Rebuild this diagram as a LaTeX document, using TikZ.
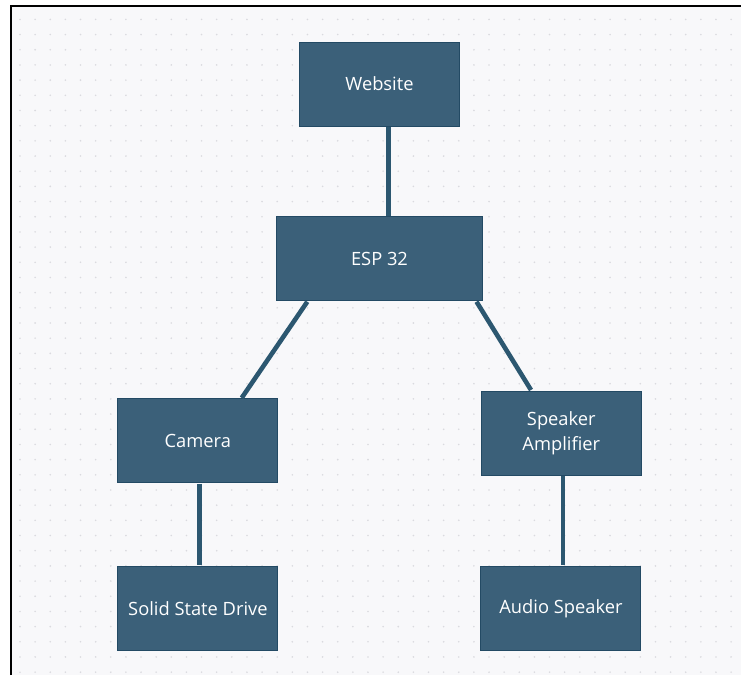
\documentclass[tikz,border=0pt]{standalone}
\usepackage{fontspec}
\setmainfont{Open Sans}
\definecolor{boxfill}{HTML}{3B6079}
\definecolor{boxedge}{HTML}{234A64}
\definecolor{wirecol}{HTML}{2C5770}
\definecolor{paper}{HTML}{F8F8FA}
\definecolor{dotcol}{HTML}{DADADF}
\begin{document}
\begin{tikzpicture}[x=1pt, y=1pt]
\tikzstyle{block}=[rectangle, fill=boxfill, draw=boxedge, line width=1pt, text=white,
  minimum width=160pt, minimum height=84pt, inner sep=0pt, align=center,
  font=\fontsize{18.3}{25}\selectfont]
\tikzstyle{wire}=[draw=wirecol, line width=4.6pt]
\useasboundingbox (0,0) rectangle (741,-675);
% dotted paper
\fill [white] (0,0) rectangle (741,-675);
\fill [paper] (11,-5.7) rectangle (741,-675);
\foreach \i in {0,...,47}
  \foreach \j in {0,...,43}
    \fill [dotcol] (20+15.13*\i,-19.4-15.18*\j) circle (0.9);
\draw [black, line width=2pt] (11,-675) -- (11,-5.7) -- (741,-5.7);
% blocks
\node [block] (website) at (379.5,-84) {Website};
\node [block, minimum width=205.6pt] (esp) at (379.5,-258.7) {ESP 32};
\node [block] (camera) at (197.8,-440.9) {Camera};
\node [block] (amp) at (561.3,-433) {Speaker\\Amplifier};
\node [block] (ssd) at (197.9,-608.4) {Solid State Drive};
\node [block] (speaker) at (560.9,-608.4) {Audio Speaker};
% links
\draw [wire] ([xshift=9pt,yshift=-0.5pt]website.south) -- ([xshift=9pt,yshift=0.5pt]esp.north);
\draw [wire] ([xshift=-72.2pt,yshift=-0.5pt]esp.south) -- ([xshift=43.9pt,yshift=0.5pt]camera.north);
\draw [wire] ([xshift=97pt,yshift=-0.5pt]esp.south) -- ([xshift=-30.3pt,yshift=0.5pt]amp.north);
\draw [wire] ([xshift=1.7pt,yshift=-0.5pt]camera.south) -- ([xshift=1.6pt,yshift=0.5pt]ssd.north);
\draw [wire] ([xshift=1.7pt,yshift=-0.5pt]amp.south) -- ([xshift=2.1pt,yshift=0.5pt]speaker.north);
\end{tikzpicture}
\end{document}
